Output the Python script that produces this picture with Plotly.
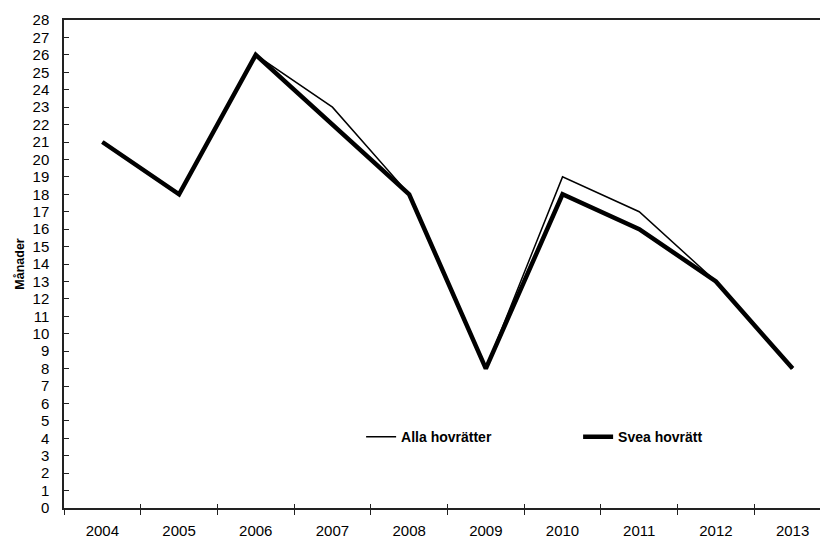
import plotly.graph_objects as go

years = ["2004", "2005", "2006", "2007", "2008", "2009", "2010", "2011", "2012", "2013"]
alla_hovratter = [21, 18, 26, 23, 18, 8, 19, 17, 13, 8]
svea_hovratt = [21, 18, 26, 22, 18, 8, 18, 16, 13, 8]
y_ticks = list(range(0, 29))

x_pos = list(range(len(years)))
boundaries = [i - 0.5 for i in range(len(years) + 1)]
x_range = [-0.5, 9.357]

font_main = "Liberation Sans, Arial, sans-serif"

fig = go.Figure()
fig.add_trace(go.Scatter(
    x=x_pos, y=alla_hovratter, mode="lines", name="Alla hovrätter",
    line=dict(color="black", width=1.5), xaxis="x",
))
fig.add_trace(go.Scatter(
    x=x_pos, y=svea_hovratt, mode="lines", name="Svea hovrätt",
    line=dict(color="black", width=4.5), xaxis="x2",
))

fig.update_layout(
    width=820, height=538,
    margin=dict(l=64, r=0, t=20, b=30),
    paper_bgcolor="white", plot_bgcolor="white",
    font=dict(family=font_main, size=15, color="black"),
    showlegend=True,
    legend=dict(
        orientation="h", x=0.393, y=0.145, xanchor="left", yanchor="middle",
        bgcolor="rgba(0,0,0,0)", entrywidth=172, entrywidthmode="pixels",
        font=dict(family=font_main, size=14, color="black", weight="bold"),
        itemclick=False,
    ),
    xaxis=dict(
        range=x_range, tickmode="array", tickvals=x_pos, ticktext=years,
        ticks="", showgrid=False, zeroline=False,
        showline=True, linecolor="#222", linewidth=1.5, mirror=True,
        ticklabelstandoff=8,
        minor=dict(tickmode="array", tickvals=boundaries, ticks="outside",
                   ticklen=5, tickcolor="#222", tickwidth=1, showgrid=False),
    ),
    xaxis2=dict(
        range=x_range, overlaying="x", anchor="y", side="bottom",
        tickmode="array", tickvals=boundaries, ticks="inside", ticklen=4,
        tickcolor="#222", tickwidth=1, showticklabels=False,
        showgrid=False, zeroline=False, showline=False,
    ),
    yaxis=dict(
        range=[0, 28], tickmode="array", tickvals=y_ticks,
        ticks="inside", ticklen=5, tickcolor="#222", tickwidth=1,
        showgrid=False, zeroline=False,
        showline=True, linecolor="#222", linewidth=1.5,
        ticklabelstandoff=10,
        title=dict(text="Månader", standoff=5,
                   font=dict(family=font_main, size=12.5, color="black", weight="bold")),
    ),
)

fig.write_html("out.html")
